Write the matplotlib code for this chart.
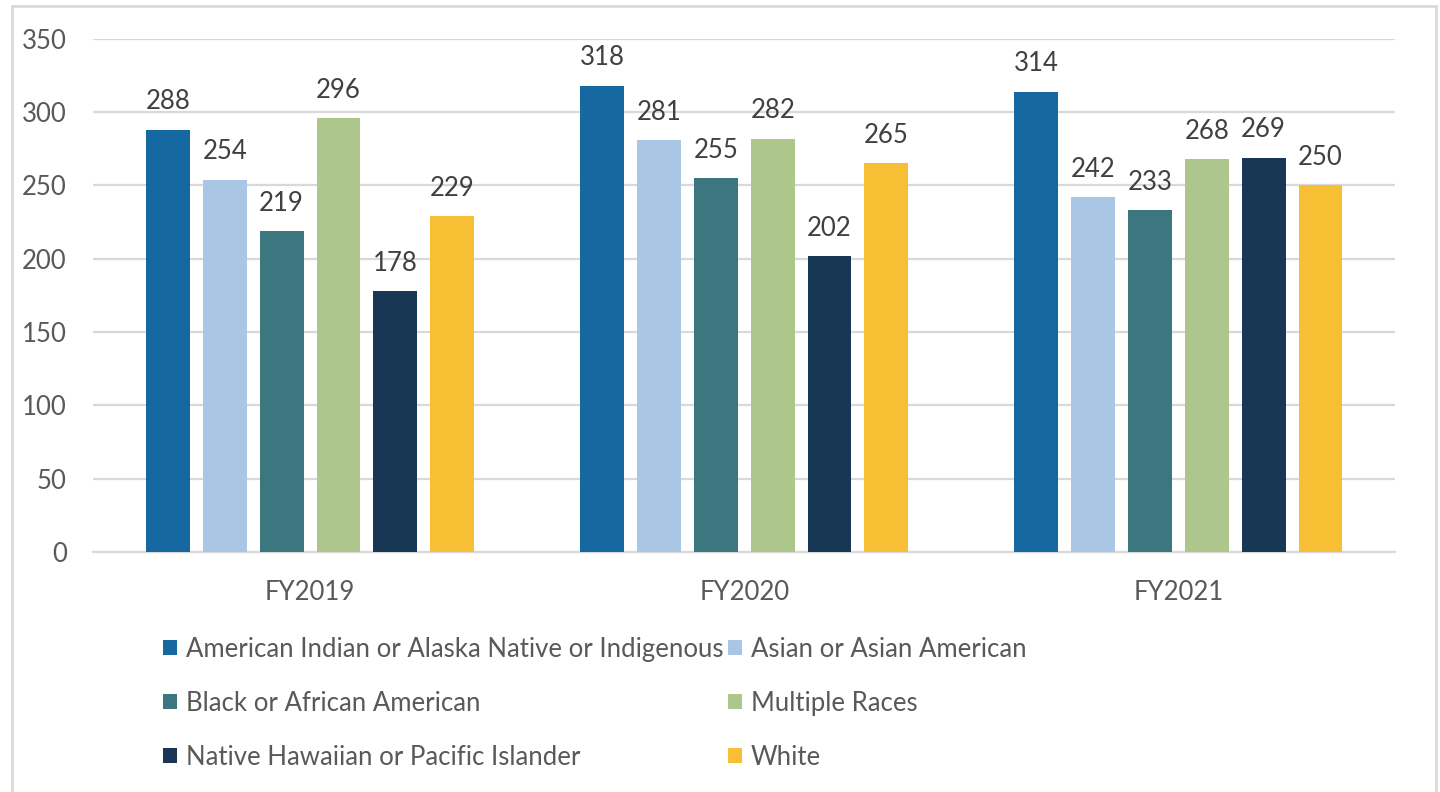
import matplotlib.pyplot as plt
import numpy as np
from matplotlib.patches import Rectangle

plt.rcParams['font.family'] = ['Lato', 'DejaVu Sans']

years = ["FY2019", "FY2020", "FY2021"]
groups = [
    "American Indian or Alaska Native or Indigenous",
    "Asian or Asian American",
    "Black or African American",
    "Multiple Races",
    "Native Hawaiian or Pacific Islander",
    "White",
]
american_indian = [288, 318, 314]
asian = [254, 281, 242]
black = [219, 255, 233]
multiple = [296, 282, 268]
native_hawaiian = [178, 202, 269]
white = [229, 265, 250]

colors = ["#1568A0", "#A9C6E4", "#3C7780", "#ADC68C", "#173754", "#F6BF34"]
series = [american_indian, asian, black, multiple, native_hawaiian, white]

fs = 18.5

fig = plt.figure(figsize=(14.4, 7.92), dpi=100)
ax = fig.add_axes([0.0646, 0.303, 0.9044, 0.648])

x = np.arange(len(years))
step = 0.131
width = 0.101
handles = []
for i, (vals, name, c) in enumerate(zip(series, groups, colors)):
    bars = ax.bar(x + (i - 2.5) * step, vals, width, color=c, label=name, zorder=3)
    ax.bar_label(bars, padding=11, fontsize=fs, color="#404040")
    handles.append(bars)

ax.set_xlim(-0.5, 2.5)
ax.set_ylim(0, 350)
ax.set_yticks(range(0, 351, 50))
ax.set_xticks(x)
ax.set_xticklabels(years)
ax.tick_params(axis="both", length=0, labelsize=fs, colors="#595959")
ax.tick_params(axis="y", pad=19)
ax.tick_params(axis="x", pad=20)
ax.grid(axis="y", color="#D9D9D9", linewidth=1.6, zorder=0)
for s in ["top", "right", "left"]:
    ax.spines[s].set_visible(False)
ax.spines["bottom"].set_color("#D9D9D9")
ax.spines["bottom"].set_linewidth(1.6)

# legend fills column-wise, so reorder to get row-wise layout
order = [0, 2, 4, 1, 3, 5]
leg = fig.legend([handles[i] for i in order], [groups[i] for i in order],
                 ncol=2, loc="upper left", bbox_to_anchor=(0.113, 0.196),
                 frameon=False, fontsize=fs, handlelength=0.55, handleheight=0.55,
                 handletextpad=0.35, columnspacing=0.17, labelspacing=1.13,
                 borderaxespad=0, borderpad=0)
for t in leg.get_texts():
    t.set_color("#595959")

fig.patches.append(Rectangle((0.008, -0.01), 0.989, 1.003, transform=fig.transFigure,
                             fill=False, edgecolor="#D9D9D9", linewidth=2))

fig.savefig("out.png", dpi=100, facecolor="white")
